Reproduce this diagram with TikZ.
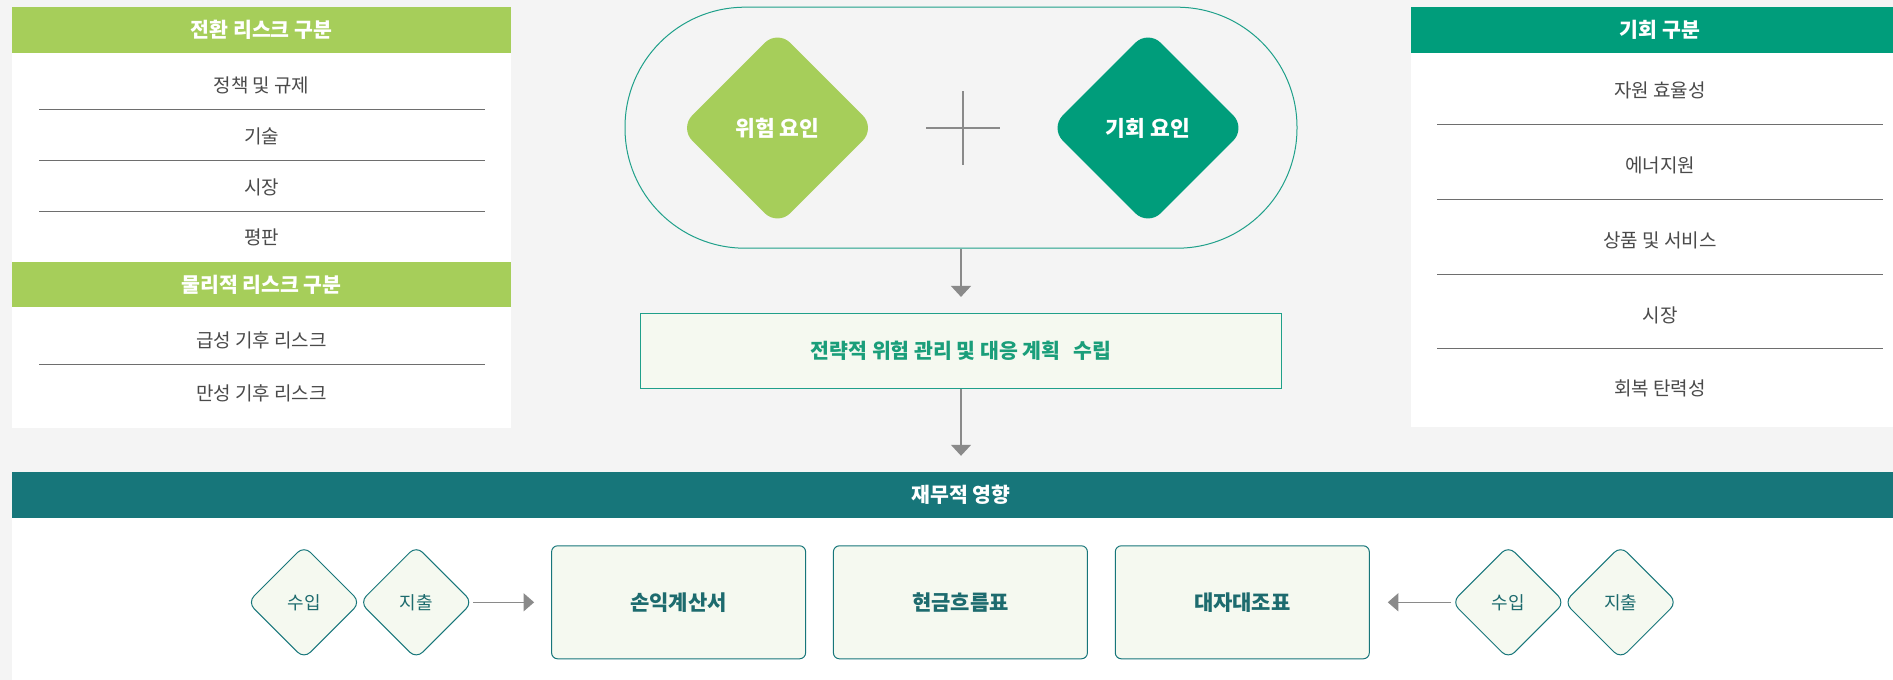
\documentclass[tikz,border=0pt]{standalone}
\usepackage{fontspec}
\setmainfont{Noto Sans CJK KR}
\usetikzlibrary{shapes.geometric,arrows.meta}
\definecolor{bg}{HTML}{F4F4F4}
\definecolor{lgreen}{HTML}{A6CE5A}
\definecolor{mgreen}{HTML}{009D7B}
\definecolor{dteal}{HTML}{17767A}
\definecolor{boxfill}{HTML}{F5F9F0}
\definecolor{txtgray}{HTML}{4A4A4A}
\definecolor{sepgray}{HTML}{6E6E6E}
\definecolor{arrgray}{HTML}{8A8A8A}
\definecolor{pillline}{HTML}{1FA08A}
\definecolor{boxtext}{HTML}{1A9E7A}
\definecolor{fintext}{HTML}{1D6B6E}
\begin{document}
\begin{tikzpicture}[x=1pt,y=-1pt,
  item/.style={text=txtgray, font=\fontsize{19}{22}\selectfont, inner sep=0pt},
  hdr/.style={text=white, font=\fontsize{20.5}{23}\selectfont\bfseries, inner sep=0pt},
  sep/.style={draw=sepgray, line width=0.9pt},
  conn/.style={draw=arrgray, line width=1.3pt, -{Triangle[width=20pt,length=11pt]}},
  conntwo/.style={draw=arrgray, line width=1.3pt, -{Triangle[width=18pt,length=10.5pt]}},
  bigdia/.style={diamond, aspect=1, rounded corners=18pt, minimum width=196pt, minimum height=196pt, inner sep=0pt, text=white, font=\fontsize{21.5}{24}\selectfont\bfseries},
  smalldia/.style={diamond, aspect=1, draw=dteal, fill=boxfill, line width=1pt, rounded corners=9pt, minimum width=113pt, minimum height=113pt, inner sep=0pt, text=fintext, font=\fontsize{18}{20}\selectfont},
  finbox/.style={draw=dteal, fill=boxfill, line width=1pt, rounded corners=6pt, minimum width=254pt, minimum height=113pt, inner sep=0pt, text=fintext, font=\fontsize{21}{24}\selectfont\bfseries}
]
% background
\fill[bg] (0,0) rectangle (1893,680);
\useasboundingbox (0,0) rectangle (1893,680);

% ---------- left panel ----------
\fill[white] (12,7) rectangle (511,428);
\fill[lgreen] (12,7) rectangle (511,53);
\node[hdr] (h1) at (261.5,30) {전환 리스크 구분};
\node[item] (l1) at (261.5,85) {정책 및 규제};
\node[item] (l2) at (261.5,136) {기술};
\node[item] (l3) at (261.5,187) {시장};
\node[item] (l4) at (261.5,237) {평판};
\draw[sep] (39,109) -- (485,109);
\draw[sep] (39,160) -- (485,160);
\draw[sep] (39,211) -- (485,211);
\fill[lgreen] (12,262) rectangle (511,307);
\node[hdr] (h2) at (261.5,285) {물리적 리스크 구분};
\node[item] (l5) at (261.5,340) {급성 기후 리스크};
\node[item] (l6) at (261.5,393) {만성 기후 리스크};
\draw[sep] (39,364) -- (485,364);

% ---------- right panel ----------
\fill[white] (1411,7) rectangle (1893,427);
\fill[mgreen] (1411,7) rectangle (1893,53);
\node[hdr] (h3) at (1660,30) {기회 구분};
\node[item] (r1) at (1660,90) {자원 효율성};
\node[item] (r2) at (1660,165) {에너지원};
\node[item] (r3) at (1660,240) {상품 및 서비스};
\node[item] (r4) at (1660,315) {시장};
\node[item] (r5) at (1660,388) {회복 탄력성};
\draw[sep] (1437,124.5) -- (1883,124.5);
\draw[sep] (1437,199.3) -- (1883,199.3);
\draw[sep] (1437,274) -- (1883,274);
\draw[sep] (1437,348.7) -- (1883,348.7);

% ---------- middle ----------
\node[draw=pillline, line width=1pt, rounded corners=120pt, minimum width=672pt, minimum height=241pt, inner sep=0pt] (pill) at (961,127.7) {};
\node[bigdia, fill=lgreen] (risk) at (777.5,128) {위험 요인};
\node[bigdia, fill=mgreen] (opp) at (1148,128) {기회 요인};
\draw[arrgray, line width=2.8pt] (963,91) -- (963,165);
\draw[arrgray, line width=2.8pt] (926,128) -- (1000,128);
\node[draw=pillline, fill=boxfill, line width=1.2pt, minimum width=641pt, minimum height=75pt, inner sep=0pt, text=boxtext, font=\fontsize{20.5}{23}\selectfont\bfseries] (plan) at (961,351) {전략적 위험 관리 및 대응 계획\hspace{0.4em} 수립};
\draw[conn, shorten >=16pt] (pill.south) -- (plan.north);

% ---------- bottom ----------
\fill[white] (12,518) rectangle (1893,680);
\node[fill=dteal, minimum width=1881pt, minimum height=46pt, inner sep=0pt] (finbar) at (952.5,495) {};
\node[hdr] (fin) at (961,495) {재무적 영향};
\draw[conn, shorten >=16pt] (plan.south) -- (plan.south |- finbar.north);

\node[finbox] (is) at (678.6,602.3) {손익계산서};
\node[finbox] (cf) at (960.4,602.3) {현금흐름표};
\node[finbox] (bs) at (1242.3,602.3) {대자대조표};

\node[smalldia] (inL) at (304,602.3) {수입};
\node[smalldia] (outL) at (416.2,602.3) {지출};
\node[smalldia] (inR) at (1508.3,602.3) {수입};
\node[smalldia] (outR) at (1620.6,602.3) {지출};

\draw[conntwo, shorten >=17pt] (outL.east) -- (is.west);
\draw[conntwo, shorten >=18pt] (inR.west) -- (bs.east);
\end{tikzpicture}
\end{document}
